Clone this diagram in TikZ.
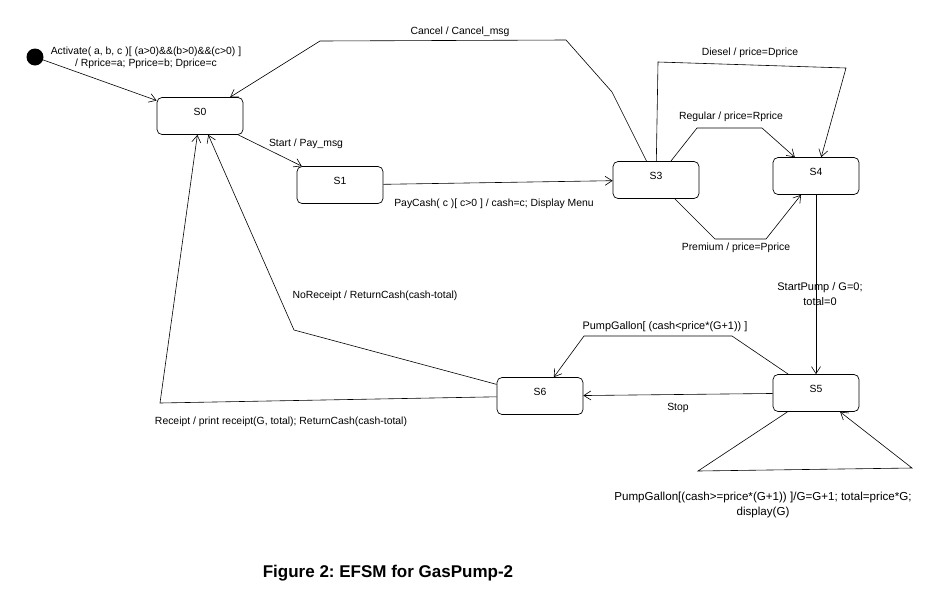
\documentclass[tikz,border=0pt]{standalone}
\usepackage{fontspec}
\setmainfont{Liberation Sans}
\usetikzlibrary{arrows.meta}
\frenchspacing

\begin{document}
\begin{tikzpicture} [
        x=1pt, y=-1pt,
        stbox/.style={draw, rectangle, rounded corners=5pt, line width=0.7pt,
            minimum width=86pt, minimum height=37pt, text depth=9pt},
        lbl/.style={align=center, inner sep=0pt},
        trans/.style={draw, line width=0.6pt, -{Straight Barb[length=7pt,width=9pt]}},
        every node/.style={font=\fontsize{10.4}{12.5}\selectfont} ]
    \useasboundingbox (0,0) rectangle (939,611);

    % states
    \fill (35,57) circle (8.5pt) coordinate (init);
    \node[stbox] (s0) at (200,116) {S0};
    \node[stbox] (s1) at (340,185) {S1};
    \node[stbox] (s3) at (656,180) {S3};
    \node[stbox] (s4) at (816,176) {S4};
    \node[stbox] (s5) at (816,393) {S5};
    \node[stbox] (s6) at (540,396) {S6};

    % transitions
    \draw[trans] (init) -- (s0);
    \draw[trans] (s0) -- (s1);
    \draw[trans] (s1) -- (s3);
    \draw[trans] (s3) -- (612,92) -- (566,40) -- (320,41) -- (s0);
    \draw[trans] (s3) -- (658,62) -- (846,68) -- (s4);
    \draw[trans] (s3) -- (697,128) -- (762,128) -- (s4);
    \draw[trans] (s3) -- (715,239) -- (766,239) -- (s4);
    \draw[trans] (s4) -- (s5);
    \draw[trans] (s5) -- (732,336) -- (584,336) -- (s6);
    \draw[trans] (s5) -- (s6);
    \draw[trans] (s5) -- (698,471) -- (912,468) -- (s5);
    \draw[trans] (s6) -- (294,330) -- (s0);
    \draw[trans] (s6) -- (160,403) -- (s0);

    % labels
    \node[lbl] (lact) at (146,58) {Activate( a, b, c )[ (a>0)\&\&(b>0)\&\&(c>0) ]\\ / Rprice=a; Pprice=b; Dprice=c};
    \node[lbl] (lstart) at (306,144) {Start / Pay\_msg};
    \node[lbl] (lpay) at (494,204) {PayCash( c )[ c>0 ] / cash=c; Display Menu};
    \node[lbl] (lcancel) at (460,32) {Cancel / Cancel\_msg};
    \node[lbl] (ldiesel) at (750,53) {Diesel / price=Dprice};
    \node[lbl] (lregular) at (731,117) {Regular / price=Rprice};
    \node[lbl] (lpremium) at (736,248) {Premium / price=Pprice};
    \node[lbl, font=\fontsize{11}{13}\selectfont] (lstartpump) at (820,294) {StartPump / G=0;\\[2pt] total=0};
    \node[lbl, font=\fontsize{10.9}{13}\selectfont] (lless) at (665,327) {PumpGallon[ (cash<price*(G+1)) ]};
    \node[lbl] (lstop) at (678,408) {Stop};
    \node[lbl, font=\fontsize{11.6}{14}\selectfont] (lmore) at (763,505) {PumpGallon[(cash>=price*(G+1)) ]/G=G+1; total=price*G;\\[1pt] display(G)};
    \node[lbl] (lnorec) at (375,296) {NoReceipt / ReturnCash(cash-total)};
    \node[lbl] (lrec) at (281,422) {Receipt / print receipt(G, total); ReturnCash(cash-total)};

    \node[font=\fontsize{17}{20}\selectfont\bfseries] (caption) at (388,573) {Figure 2: EFSM for GasPump-2};
\end{tikzpicture}
\end{document}
